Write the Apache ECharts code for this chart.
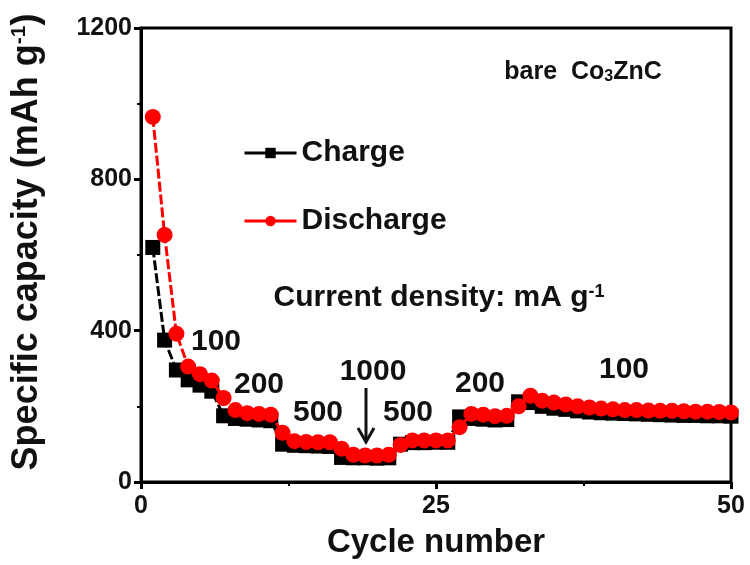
<!DOCTYPE html>
<html>
<head>
<meta charset="utf-8">
<script src="https://cdn.jsdelivr.net/npm/echarts@6/dist/echarts.min.js"></script>
<style>
  html, body { margin: 0; padding: 0; background: #fff; }
  #chart { width: 750px; height: 565px; }
</style>
</head>
<body>
<div id="chart"></div>
<script>
// Rate capability of bare Co3ZnC: specific capacity per cycle (mAh g-1)
const cycles = [1,2,3,4,5,6,7,8,9,10,11,12,13,14,15,16,17,18,19,20,21,22,23,24,25,
                26,27,28,29,30,31,32,33,34,35,36,37,38,39,40,41,42,43,44,45,46,47,48,49,50];
const chargeCapacity = [620,375,296,270,256,240,175,168,166,164,162,100,97,96,95,94,65,64,64,63,
                        64,100,104,104,105,105,172,168,166,164,165,212,210,200,195,192,188,185,183,182,
                        181,180,179,178,177,176,176,175,175,174];
const dischargeCapacity = [965,653,392,305,285,268,222,190,182,180,178,130,108,106,105,105,88,72,70,70,
                           72,98,110,110,110,110,145,180,178,174,175,200,228,215,210,205,200,197,194,192,
                           190,190,189,188,188,187,186,186,185,184];
const xTicks = [0, 25, 50];
const yTicks = [0, 400, 800, 1200];

// current-density annotations: [text, x, y] in pixels
const rateLabels = [
  ['100', 216, 342], ['200', 259, 385], ['500', 318, 413], ['1000', 373, 372],
  ['500', 408, 413], ['200', 480, 384], ['100', 624, 370]
];

const FONT = 'Liberation Sans, Arial, sans-serif';
const INK = '#111';

const chart = echarts.init(document.getElementById('chart'), null, { renderer: 'canvas' });

const toPairs = arr => arr.map((v, i) => [cycles[i], v]);

const option = {
  animation: false,
  backgroundColor: '#fff',
  grid: {
    left: 141, right: 19, top: 28, bottom: 83,
    show: true, borderColor: '#000', borderWidth: 3, backgroundColor: 'transparent'
  },
  legend: {
    orient: 'vertical',
    left: 238, top: 133,
    itemWidth: 52, itemHeight: 13, itemGap: 38,
    lineStyle: { type: 'solid', width: 3 },
    textStyle: { fontFamily: FONT, fontSize: 30, fontWeight: 'bold', color: INK },
    data: ['Charge', 'Discharge']
  },
  xAxis: {
    type: 'value', min: xTicks[0], max: xTicks[xTicks.length - 1], interval: 25,
    name: 'Cycle number', nameLocation: 'middle', nameGap: 44,
    nameTextStyle: { fontFamily: FONT, fontSize: 33, fontWeight: 'bold', color: INK },
    axisLine: { lineStyle: { color: '#000', width: 3 } },
    axisTick: { length: 7, lineStyle: { color: '#000', width: 3 } },
    minorTick: { show: true, splitNumber: 2, length: 4, lineStyle: { color: '#000', width: 2 } },
    axisLabel: { fontFamily: FONT, fontSize: 25, fontWeight: 'bold', color: INK, margin: 12 },
    splitLine: { show: false }
  },
  yAxis: {
    type: 'value', min: yTicks[0], max: yTicks[yTicks.length - 1], interval: 400,
    name: '{m|Specific capacity (mAh g}{s|-1}{m|)}', nameLocation: 'middle', nameGap: 96,
    nameTextStyle: {
      fontFamily: FONT, fontWeight: 'bold', color: INK, padding: [0, 0, 0, 26],
      rich: {
        m: { fontFamily: FONT, fontSize: 36, fontWeight: 'bold', color: INK },
        s: { fontFamily: FONT, fontSize: 21, fontWeight: 'bold', color: INK, verticalAlign: 'top' }
      }
    },
    axisLine: { show: true, lineStyle: { color: '#000', width: 3 } },
    axisTick: { length: 7, lineStyle: { color: '#000', width: 3 } },
    minorTick: { show: true, splitNumber: 2, length: 4, lineStyle: { color: '#000', width: 2 } },
    axisLabel: {
      fontFamily: FONT, fontSize: 25, fontWeight: 'bold', color: INK, margin: 9,
      formatter: v => String(v)
    },
    splitLine: { show: false }
  },
  series: [
    {
      name: 'Charge', type: 'line', data: toPairs(chargeCapacity),
      symbol: 'rect', symbolSize: 15,
      itemStyle: { color: '#000' },
      lineStyle: { color: '#000', width: 3, type: [10, 3] },
      z: 2
    },
    {
      name: 'Discharge', type: 'line', data: toPairs(dischargeCapacity),
      symbol: 'circle', symbolSize: 16,
      itemStyle: { color: '#f00' },
      lineStyle: { color: '#f00', width: 3, type: [10, 3] },
      z: 3
    }
  ],
  graphic: [
    {
      type: 'text', x: 583, y: 72,
      style: {
        text: '{m|bare  Co}{s|3}{m|ZnC}', align: 'center', verticalAlign: 'middle',
        rich: {
          m: { fontFamily: FONT, fontSize: 25, fontWeight: 'bold', fill: INK },
          s: { fontFamily: FONT, fontSize: 16, fontWeight: 'bold', fill: INK, verticalAlign: 'bottom' }
        }
      }
    },
    {
      type: 'text', x: 439, y: 298,
      style: {
        text: '{m|Current density: mA g}{s|-1}', align: 'center', verticalAlign: 'middle',
        rich: {
          m: { fontFamily: FONT, fontSize: 30, fontWeight: 'bold', fill: INK },
          s: { fontFamily: FONT, fontSize: 18, fontWeight: 'bold', fill: INK, verticalAlign: 'top' }
        }
      }
    },
    // arrow pointing at the 1000 mA g-1 segment
    { type: 'line', shape: { x1: 366, y1: 388, x2: 366, y2: 441 }, style: { stroke: INK, lineWidth: 3 } },
    { type: 'polyline', shape: { points: [[358, 428], [366, 442], [374, 428]] }, style: { stroke: INK, lineWidth: 3, fill: null } }
  ].concat(rateLabels.map(([t, x, y]) => ({
    type: 'text', x: x, y: y,
    style: { text: t, align: 'center', verticalAlign: 'middle', fontFamily: FONT, fontSize: 30, fontWeight: 'bold', fill: INK }
  })))
};

chart.setOption(option);
</script>
</body>
</html>
